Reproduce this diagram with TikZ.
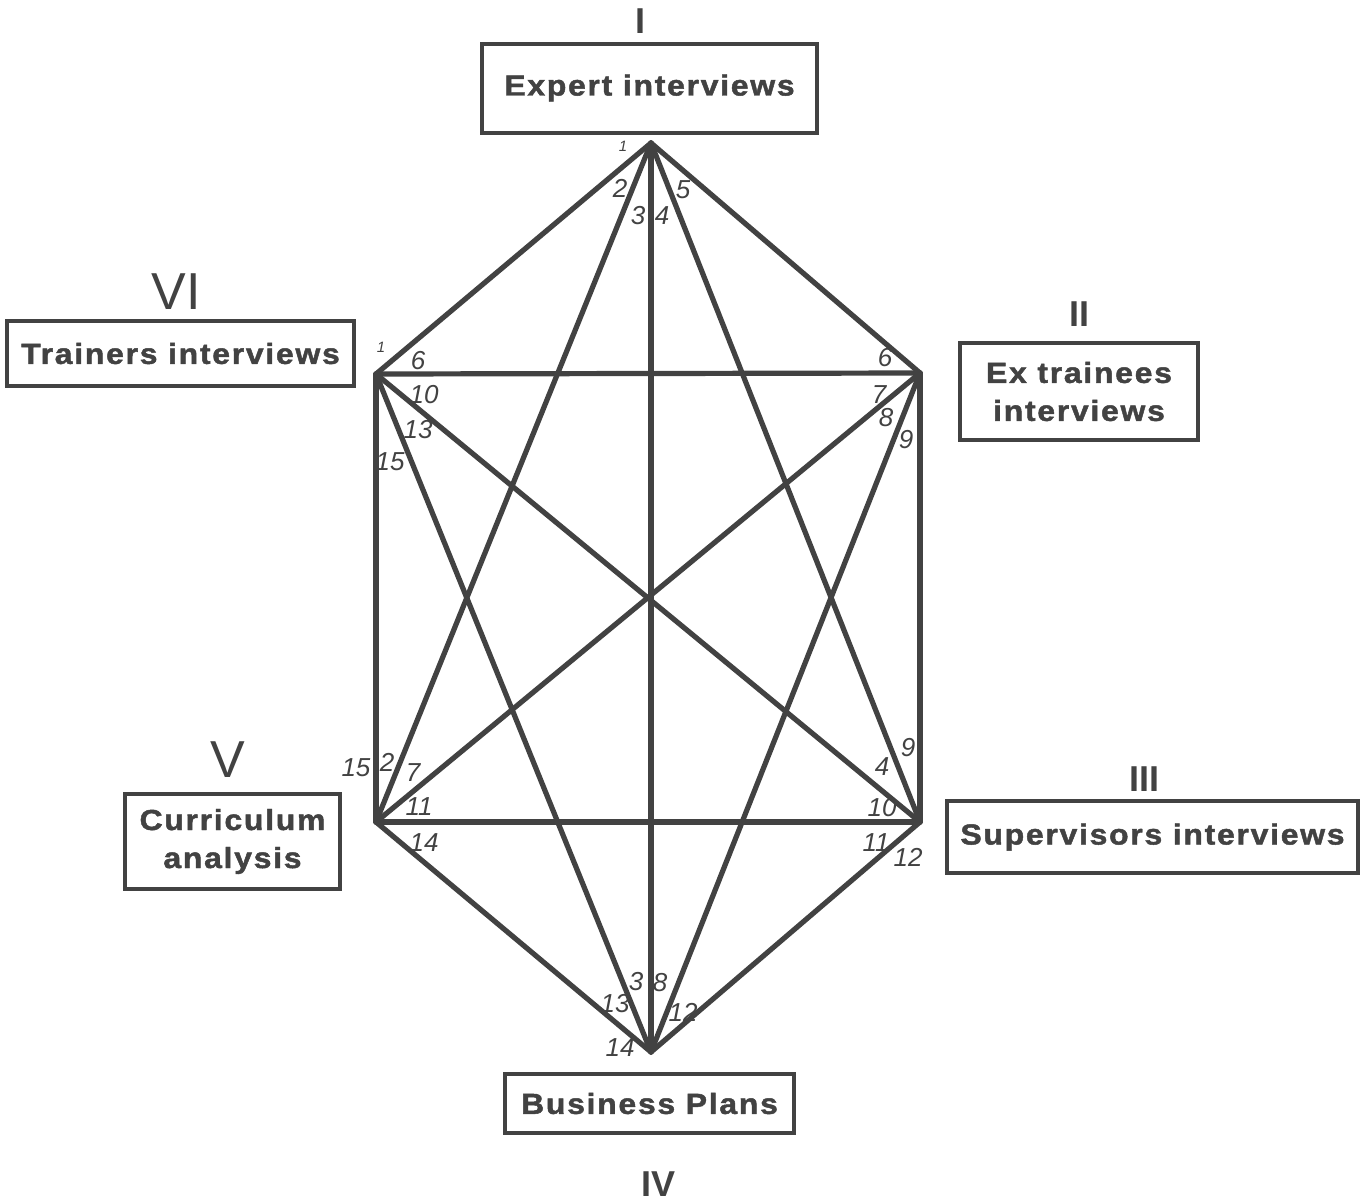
\documentclass[tikz,border=0pt]{standalone}
\usepackage{fontspec}
\setmainfont{Liberation Sans}
\newfontfamily\boxfont{Liberation Sans}[LetterSpace=6,FakeStretch=1.1,FakeBold=1.6]
\newfontfamily\numfont{Liberation Sans}
\definecolor{ink}{HTML}{424242}
\begin{document}
\begin{tikzpicture}[x=1pt,y=-1pt,
  edge/.style={draw=ink,line width=5.2pt,line cap=round,line join=round},
  labelbox/.style={draw=ink,line width=4pt,text=ink,inner sep=0pt,align=center,
    font=\boxfont\bfseries\fontsize{29}{38}\selectfont},
  roman/.style={text=ink,inner sep=0pt,font=\bfseries\fontsize{36}{36}\selectfont},
  bigroman/.style={text=ink,inner sep=0pt,font=\fontsize{52}{52}\selectfont},
  num/.style={text=ink,inner sep=0pt,font=\numfont\itshape\fontsize{26}{26}\selectfont},
  tiny/.style={text=ink,inner sep=0pt,font=\numfont\itshape\fontsize{15}{15}\selectfont}]
\useasboundingbox[fill=white] (0,0) rectangle (1368,1202);

% vertices
\coordinate (A) at (651,143);
\coordinate (B) at (376,374);
\coordinate (C) at (920,373);
\coordinate (D) at (376,822);
\coordinate (E) at (920,822);
\coordinate (F) at (651,1052);

% edges
\draw[edge] (A) -- (B);
\draw[edge] (A) -- (C);
\draw[edge] (A) -- (D);
\draw[edge] (A) -- (E);
\draw[edge] (A) -- (F);
\draw[edge] (B) -- (C);
\draw[edge] (B) -- (D);
\draw[edge] (B) -- (E);
\draw[edge] (B) -- (F);
\draw[edge] (C) -- (D);
\draw[edge] (C) -- (E);
\draw[edge] (C) -- (F);
\draw[edge] (D) -- (E);
\draw[edge] (D) -- (F);
\draw[edge] (E) -- (F);

% boxes
\node[labelbox,minimum width=335pt,minimum height=89pt] (expert) at (649.5,88) {Expert interviews};
\node[labelbox,minimum width=347pt,minimum height=65pt] (trainers) at (180.5,353.5) {Trainers interviews};
\node[labelbox,minimum width=238pt,minimum height=97pt] (extrainees) at (1079,391.5) {Ex trainees\\interviews};
\node[labelbox,minimum width=215pt,minimum height=95pt] (curriculum) at (232.5,841.5) {Curriculum\\analysis};
\node[labelbox,minimum width=411pt,minimum height=72pt] (supervisors) at (1152.5,837) {Supervisors interviews};
\node[labelbox,minimum width=289pt,minimum height=59pt] (business) at (649.5,1103.5) {Business Plans};

% roman numerals
\node[roman] (rI) at (640,21) {I};
\node[roman] (rII) at (1079,314) {II};
\node[roman] (rIII) at (1144,779) {III};
\node[roman] (rIV) at (658,1184) {IV};
\node[bigroman] (rV) at (228,760) {V};
\node[bigroman] (rVI) at (176,292) {VI};

% edge numbers near A
\node[tiny] (a1) at (623,146) {1};
\node[num] (a2) at (620,188) {2};
\node[num] (a3) at (638,216) {3};
\node[num] (a4) at (662,216) {4};
\node[num] (a5) at (683,190) {5};
% near B
\node[tiny] (b1) at (381,347) {1};
\node[num] (b6) at (418,361) {6};
\node[num] (b10) at (424,395) {10};
\node[num] (b13) at (418,430) {13};
\node[num] (b15) at (390,462) {15};
% near C
\node[num] (c6) at (885,358) {6};
\node[num] (c7) at (879,395) {7};
\node[num] (c8) at (886,418) {8};
\node[num] (c9) at (906,440) {9};
% near D
\node[num] (d15) at (356,768) {15};
\node[num] (d2) at (387,762) {2};
\node[num] (d7) at (413,773) {7};
\node[num] (d11) at (419,807) {11};
\node[num] (d14) at (424,843) {14};
% near E
\node[num] (e9) at (908,748) {9};
\node[num] (e4) at (882,767) {4};
\node[num] (e10) at (882,808) {10};
\node[num] (e11) at (876,843) {11};
\node[num] (e12) at (908,857) {12};
% near F
\node[num] (f13) at (615,1004) {13};
\node[num] (f3) at (636,982) {3};
\node[num] (f8) at (660,983) {8};
\node[num] (f12) at (683,1012) {12};
\node[num] (f14) at (620,1048) {14};
\end{tikzpicture}
\end{document}
